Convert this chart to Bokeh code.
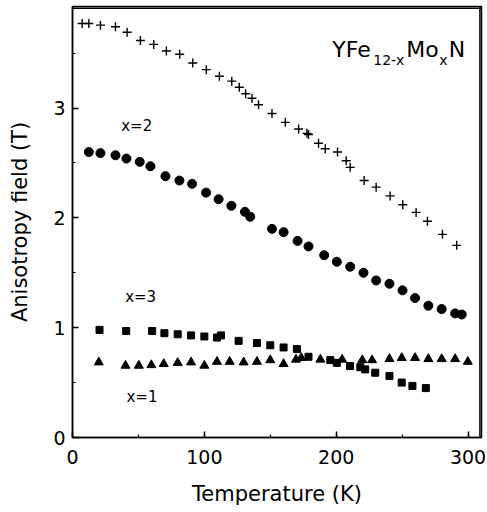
from bokeh.plotting import figure
from bokeh.models import Range1d, SingleIntervalTicker, Label, Span
from bokeh.core.properties import value
from bokeh.embed import file_html
from bokeh.resources import INLINE

# x = 0 (crosses, unlabeled)
T0 = [7.3, 12.4, 21.2, 32.6, 41.4, 51.5, 61.6, 71.2, 81.3, 91.2, 101.5, 111.4, 120.8,
      126.5, 131.3, 136.1, 141.1, 151.3, 161.4, 171.5, 177.8, 179.0, 186.6, 191.7,
      201.0, 207.6, 210.6, 221.2, 230.3, 240.9, 250.5, 260.6, 269.2, 280.6, 291.4]
H0 = [3.77, 3.77, 3.755, 3.74, 3.69, 3.615, 3.58, 3.52, 3.49, 3.41, 3.35, 3.29, 3.245,
      3.19, 3.13, 3.09, 3.03, 2.95, 2.87, 2.81, 2.77, 2.76, 2.68, 2.63,
      2.60, 2.52, 2.46, 2.34, 2.28, 2.20, 2.12, 2.05, 1.97, 1.85, 1.75]

# x = 2 (circles)
T2 = [12.4, 21.2, 32.6, 40.9, 51.0, 59.1, 70.5, 81.1, 90.7, 101.3, 110.8, 120.5, 130.8,
      134.8, 151.3, 160.1, 170.7, 179.0, 190.9, 200.5, 210.6, 220.7, 230.3, 240.4,
      250.3, 259.8, 269.9, 280.0, 290.2, 295.2]
H2 = [2.60, 2.59, 2.57, 2.54, 2.51, 2.47, 2.38, 2.34, 2.31, 2.23, 2.17, 2.11, 2.055,
      2.01, 1.90, 1.87, 1.79, 1.74, 1.66, 1.60, 1.555, 1.50, 1.43, 1.40,
      1.34, 1.27, 1.20, 1.17, 1.13, 1.12]

# x = 3 (squares)
T3 = [20.5, 40.7, 60.4, 69.7, 79.8, 89.9, 100.0, 109.6, 112.6, 126.0, 139.9, 150.0,
      160.1, 170.2, 179.0, 195.5, 200.5, 210.5, 218.3, 222.0, 229.6, 240.4, 249.7,
      257.8, 268.0]
H3 = [0.98, 0.97, 0.97, 0.95, 0.94, 0.93, 0.92, 0.91, 0.93, 0.88, 0.86, 0.84,
      0.82, 0.805, 0.735, 0.705, 0.68, 0.65, 0.64, 0.62, 0.59, 0.56, 0.50,
      0.47, 0.45]

# x = 1 (triangles)
T1 = [19.9, 40.2, 50.3, 59.8, 69.2, 79.8, 89.9, 100.0, 109.6, 119.2, 129.8, 139.9,
      150.0, 160.1, 169.5, 173.5, 188.0, 204.5, 219.8, 227.2, 240.4, 249.7, 259.8,
      269.9, 280.0, 290.2, 299.8]
H1 = [0.685, 0.655, 0.655, 0.66, 0.67, 0.68, 0.685, 0.655, 0.69, 0.69, 0.685, 0.69,
      0.705, 0.67, 0.71, 0.725, 0.71, 0.71, 0.705, 0.705, 0.715, 0.725, 0.725,
      0.715, 0.715, 0.715, 0.69]

series_labels = ["x=2", "x=3", "x=1"]
label_T = [48.7, 51.7, 52.7]
label_H = [2.84, 1.275, 0.366]

X_MAX = 309
Y_MAX = 3.91

FONT = "DejaVu Sans"

p = figure(width=486, height=511,
           x_range=Range1d(0, X_MAX + 1.2), y_range=Range1d(0, Y_MAX + 0.015),
           output_backend="svg", toolbar_location=None,
           min_border_left=72, min_border_right=5, min_border_top=6, min_border_bottom=74,
           x_axis_label="Temperature (K)", y_axis_label="Anisotropy field (T)")

p.xaxis.ticker = SingleIntervalTicker(interval=100, num_minor_ticks=2)
p.yaxis.ticker = SingleIntervalTicker(interval=1, num_minor_ticks=2)
p.grid.visible = False
p.outline_line_color = "black"
p.outline_line_width = 1.5
p.background_fill_color = "white"
p.border_fill_color = "white"

for ax in (p.xaxis[0], p.yaxis[0]):
    ax.axis_line_width = 1.5
    ax.axis_line_color = "black"
    ax.major_tick_in = 6
    ax.major_tick_out = 0
    ax.minor_tick_in = 3
    ax.minor_tick_out = 0
    ax.major_tick_line_width = 1.5
    ax.minor_tick_line_width = 1.2
    ax.major_tick_line_color = "black"
    ax.minor_tick_line_color = "black"
    ax.major_label_text_font = FONT
    ax.major_label_text_font_size = "19px"
    ax.major_label_text_color = "black"
    ax.axis_label_text_font = FONT
    ax.axis_label_text_font_size = "21px"
    ax.axis_label_text_font_style = "normal"
    ax.axis_label_text_color = "black"

p.xaxis.major_label_standoff = 12
p.xaxis.axis_label_standoff = 15
p.yaxis.major_label_standoff = 7
p.yaxis.axis_label_standoff = 18

# frame edges on the top and right, drawn just inside the plotting area
p.add_layout(Span(location=X_MAX, dimension="height", line_color="black", line_width=1.5))
p.add_layout(Span(location=Y_MAX, dimension="width", line_color="black", line_width=1.5))

p.scatter(T0, H0, marker="cross", size=9, line_color="black", line_width=1.4)
p.scatter(T2, H2, marker="circle", size=9, fill_color="black", line_color="black")
p.scatter(T3, H3, marker="square", size=7, fill_color="black", line_color="black")
p.scatter(T1, H1, marker="triangle", size=9, fill_color="black", line_color="black")

p.text(x=label_T, y=label_H, text=series_labels, text_font=value(FONT),
       text_font_size="15px", text_align="center", text_baseline="middle",
       text_color="black")

# compound title YFe_{12-x}Mo_xN, anchored in data units, pieces offset in pixels
title_T = 197.0
title_H = 3.53
sub_H = 3.44
pieces = [("YFe", 0.0, title_H, "22px"), ("12-x", 41.0, sub_H, "14px"),
          ("Mo", 74.0, title_H, "22px"), ("x", 107.0, sub_H, "14px"),
          ("N", 116.5, title_H, "22px")]
for txt, dx, yy, fs in pieces:
    p.add_layout(Label(x=title_T, y=yy, x_offset=dx, text=txt,
                       text_font=FONT, text_font_size=fs, text_color="black",
                       text_baseline="alphabetic", text_align="left"))

open("out.html", "w").write(file_html(p, INLINE))
